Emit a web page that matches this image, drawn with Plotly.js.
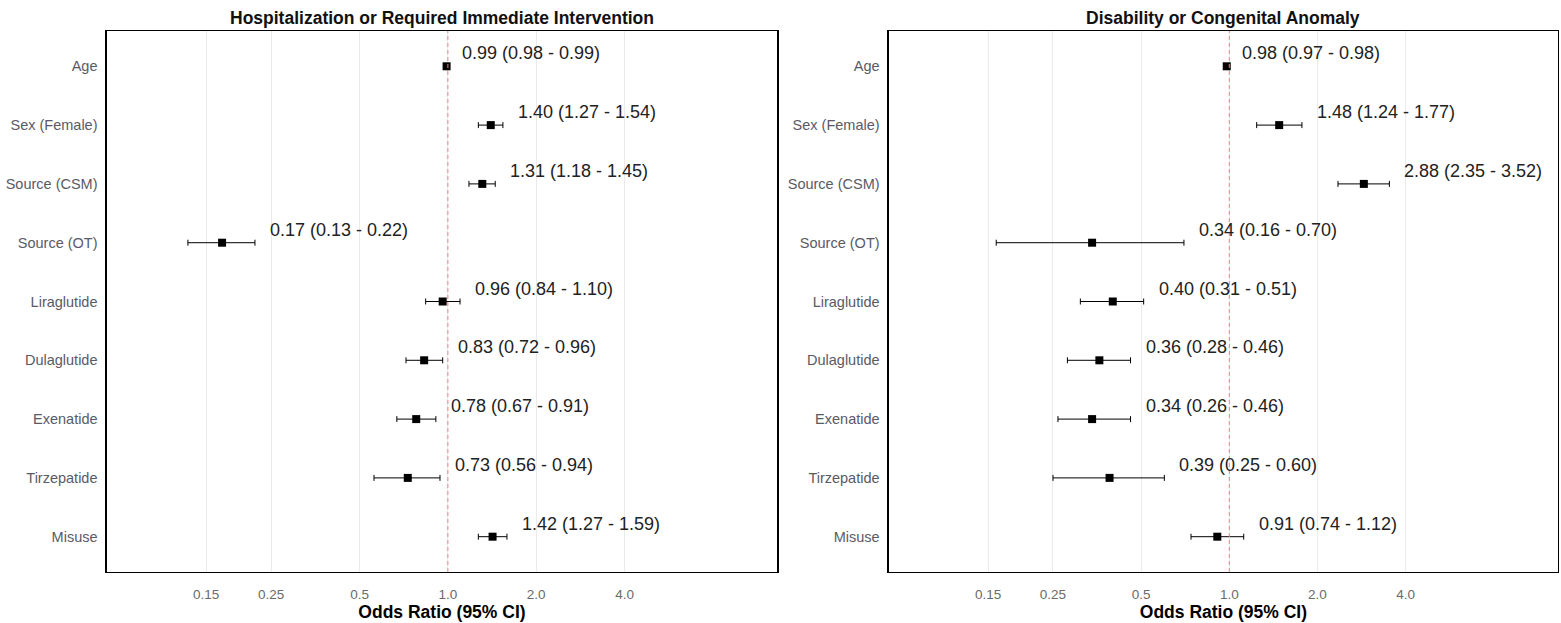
<!DOCTYPE html>
<html><head><meta charset="utf-8">
<script src="https://cdn.plot.ly/plotly-3.0.1.min.js"></script>
<style>html,body{margin:0;padding:0;background:#fff}#chart{width:1561px;height:623px}</style>
</head><body><div id="chart"></div>
<script>
const categories = ["Age","Sex (Female)","Source (CSM)","Source (OT)","Liraglutide","Dulaglutide","Exenatide","Tirzepatide","Misuse"];
const hospOR    = [0.99,1.40,1.31,0.17,0.96,0.83,0.78,0.73,1.42];
const hospLower = [0.98,1.27,1.18,0.13,0.84,0.72,0.67,0.56,1.27];
const hospUpper = [0.99,1.54,1.45,0.22,1.10,0.96,0.91,0.94,1.59];
const disOR     = [0.98,1.48,2.88,0.34,0.40,0.36,0.34,0.39,0.91];
const disLower  = [0.97,1.24,2.35,0.16,0.31,0.28,0.26,0.25,0.74];
const disUpper  = [0.98,1.77,3.52,0.70,0.51,0.46,0.46,0.60,1.12];
const tickVals  = [0.15,0.25,0.5,1,2,4];
const tickText  = ["0.15","0.25","0.5","1.0","2.0","4.0"];
const panelTitles = ["Hospitalization or Required Immediate Intervention","Disability or Congenital Anomaly"];
const xTitle = "Odds Ratio (95% CI)";

const FONT = "Liberation Sans, Arial, sans-serif";
const panels = [
  {or:hospOR, lo:hospLower, hi:hospUpper, xa:"x", ya:"y"},
  {or:disOR, lo:disLower, hi:disUpper, xa:"x2", ya:"y2"}
];
const traces = panels.map(p => ({
  type:"scatter", mode:"markers",
  x:p.or, y:categories, xaxis:p.xa, yaxis:p.ya,
  marker:{symbol:"square", size:8, color:"#000"},
  error_x:{type:"data", symmetric:false,
    array:p.or.map((v,i)=>p.hi[i]-v), arrayminus:p.or.map((v,i)=>v-p.lo[i]),
    color:"#000", thickness:1, width:3},
  showlegend:false, hoverinfo:"skip"
}));

const annotations = [];
const fmt = v => v.toFixed(2);
panels.forEach(p => {
  categories.forEach((c,i) => {
    annotations.push({xref:p.xa, yref:p.ya, x:Math.log10(p.hi[i]), y:c,
      text:`${fmt(p.or[i])} (${fmt(p.lo[i])} - ${fmt(p.hi[i])})`,
      xanchor:"left", yanchor:"middle", xshift:13, yshift:13, showarrow:false,
      font:{family:FONT, size:18, color:"#222"}});
  });
});

const xr = [Math.log10(0.0676)+0.008, Math.log10(13)+0.008];
function xaxis(dom, anchor){
  return {type:"log", domain:dom, anchor:anchor, range:xr,
    tickvals:tickVals, ticktext:tickText, tickfont:{family:FONT,size:13.5,color:"#6a6a6a"},
    ticks:"", ticklabelstandoff:9, showgrid:true, gridcolor:"#ebebeb", gridwidth:1,
    zeroline:false, showline:true, mirror:true, linecolor:"#000", linewidth:1.5,
    title:{text:"<b>"+xTitle+"</b>", font:{family:FONT,size:17.5,color:"#000"}, standoff:4},
    automargin:false, fixedrange:true};
}
function yaxis(anchor){
  return {type:"category", domain:[0.0819,0.9502], anchor:anchor,
    categoryorder:"array", categoryarray:categories, range:[8.6,-0.6],
    tickfont:{family:FONT,size:14.5,color:"#5a5a66"}, ticks:"", ticklabelstandoff:5,
    showgrid:false, zeroline:false, showline:true, mirror:true, linecolor:"#000", linewidth:1.5,
    automargin:false, fixedrange:true};
}
const shapes = [["x","y domain"],["x2","y2 domain"]].map(r => ({type:"line", xref:r[0], yref:r[1],
  x0:1, x1:1, y0:0, y1:1, line:{color:"#e8858c", width:1, dash:"4px,3px"}}));

const doms = [[0.0685,0.4978],[0.5695,0.998]];
doms.forEach((d,k) => {
  annotations.push({xref:"paper", yref:"paper", x:(d[0]+d[1])/2, y:1-18/623,
    text:"<b>"+panelTitles[k]+"</b>", showarrow:false, xanchor:"center", yanchor:"middle",
    font:{family:FONT, size:17.5, color:"#111"}});
});

const layout = {
  width:1561, height:623, margin:{l:0,r:0,t:0,b:0},
  paper_bgcolor:"#fff", plot_bgcolor:"#fff",
  xaxis:xaxis(doms[0],"y"), yaxis:yaxis("x"),
  xaxis2:xaxis(doms[1],"y2"), yaxis2:yaxis("x2"),
  annotations:annotations, shapes:shapes
};
Plotly.newPlot("chart", traces, layout, {displayModeBar:false, staticPlot:true});
</script></body></html>
